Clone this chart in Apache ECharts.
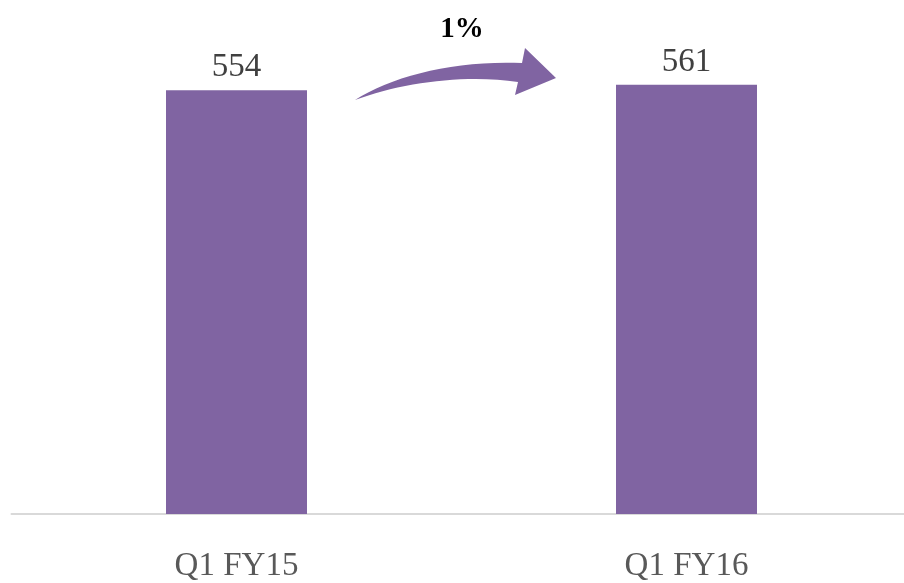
<!DOCTYPE html>
<html>
<head>
<meta charset="utf-8">
<script src="https://cdn.jsdelivr.net/npm/echarts@6/dist/echarts.min.js"></script>
<style>
html, body { margin: 0; padding: 0; background: #fff; overflow: hidden; }
#chart { width: 912px; height: 583px; }
</style>
</head>
<body>
<div id="chart"></div>
<script>
var categories = ['Q1 FY15', 'Q1 FY16'];
var values = [554, 561];
var changeText = '1%';

var chart = echarts.init(document.getElementById('chart'));

// curved arrow between the two bars
var arrowPath = 'M355,100 C392,76 455,60 522,63 L525,48 L556,78 L515,95 L518,82 C468,74 402,82 355,100 Z';

var option = {
    animation: false,
    grid: { left: 11.5, right: 0.5, top: 55, bottom: 68 },
    xAxis: {
        type: 'category',
        data: categories,
        axisLine: { lineStyle: { color: '#D9D9D9', width: 2 } },
        axisTick: { show: false },
        axisLabel: {
            margin: 36,
            fontFamily: 'Liberation Serif',
            fontSize: 33,
            color: '#595959'
        }
    },
    yAxis: {
        type: 'value',
        min: 0,
        max: 600,
        show: false,
        splitLine: { show: false }
    },
    series: [{
        type: 'bar',
        data: values,
        barWidth: 141,
        itemStyle: { color: '#8064A2' },
        label: {
            show: true,
            position: 'top',
            distance: 6,
            fontFamily: 'Liberation Serif',
            fontSize: 33,
            color: '#404040'
        }
    }, {
        type: 'custom',
        coordinateSystem: 'none',
        silent: true,
        data: [0],
        renderItem: function () {
            return {
                type: 'path',
                shape: { pathData: arrowPath },
                style: { fill: '#8064A2' }
            };
        }
    }],
    graphic: [
        {
            type: 'text',
            x: 462,
            y: 30,
            style: {
                text: changeText,
                fontFamily: 'Liberation Serif',
                fontSize: 29,
                fontWeight: 'bold',
                fill: '#000',
                align: 'center',
                verticalAlign: 'middle'
            }
        }
    ]
};
chart.setOption(option);
</script>
</body>
</html>
